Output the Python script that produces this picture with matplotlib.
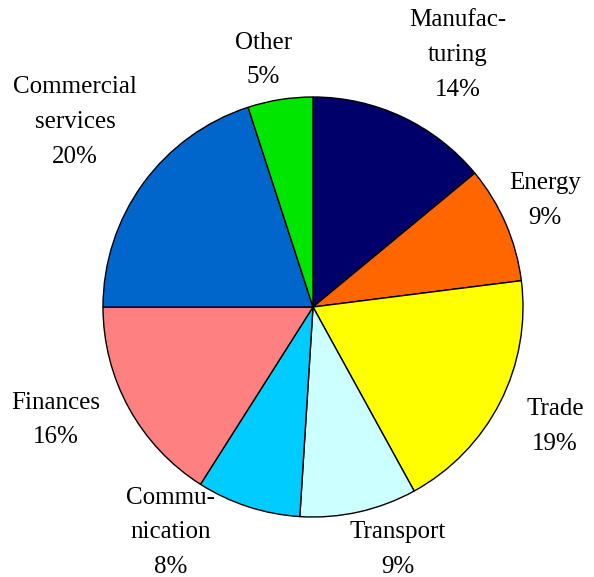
import numpy as np
import matplotlib
matplotlib.use("Agg")
import matplotlib.pyplot as plt

# sector shares, clockwise from 12 o'clock
sectors = ["Manufac-\nturing", "Energy", "Trade", "Transport", "Commu-\nnication",
           "Finances", "Commercial\nservices", "Other"]
shares = [14, 9, 19, 9, 8, 16, 20, 5]
colors = ["#00006B", "#FF6600", "#FFFF00", "#CCFFFF", "#00CCFF",
          "#FF8080", "#0066CC", "#00E600"]
# label placement: distance in radii and angular nudge (deg) from wedge middle
label_r = [1.385, 1.215, 1.285, 1.225, 1.27, 1.34, 1.435, 1.2]
label_da = [-4.7, 1.2, 0.8, 6.7, -14.3, -5.1, -1.9, 2.4]

plt.rcParams['font.family'] = ['Liberation Serif', 'DejaVu Serif']

fig = plt.figure(figsize=(5.94, 5.77), dpi=100)
ax = fig.add_axes([0, 0, 1, 1])

R = 210
cx, cy = 313, 270
wedges, _ = ax.pie(shares, colors=colors, startangle=90, counterclock=False,
                   radius=R, center=(cx, cy), frame=True,
                   wedgeprops=dict(edgecolor='black', linewidth=1.0))
ax.set_xlim(0, 594)
ax.set_ylim(0, 577)
ax.set_aspect('equal')
ax.axis('off')

for w, name, val, k, da in zip(wedges, sectors, shares, label_r, label_da):
    ang = np.deg2rad((w.theta1 + w.theta2) / 2 + da)
    x = cx + k * R * np.cos(ang)
    y = cy + k * R * np.sin(ang)
    ax.text(x, y, f"{name}\n{val}%", ha='center', va='center',
            fontsize=18, linespacing=1.75, color='black')

fig.savefig("out.png", dpi=100)
